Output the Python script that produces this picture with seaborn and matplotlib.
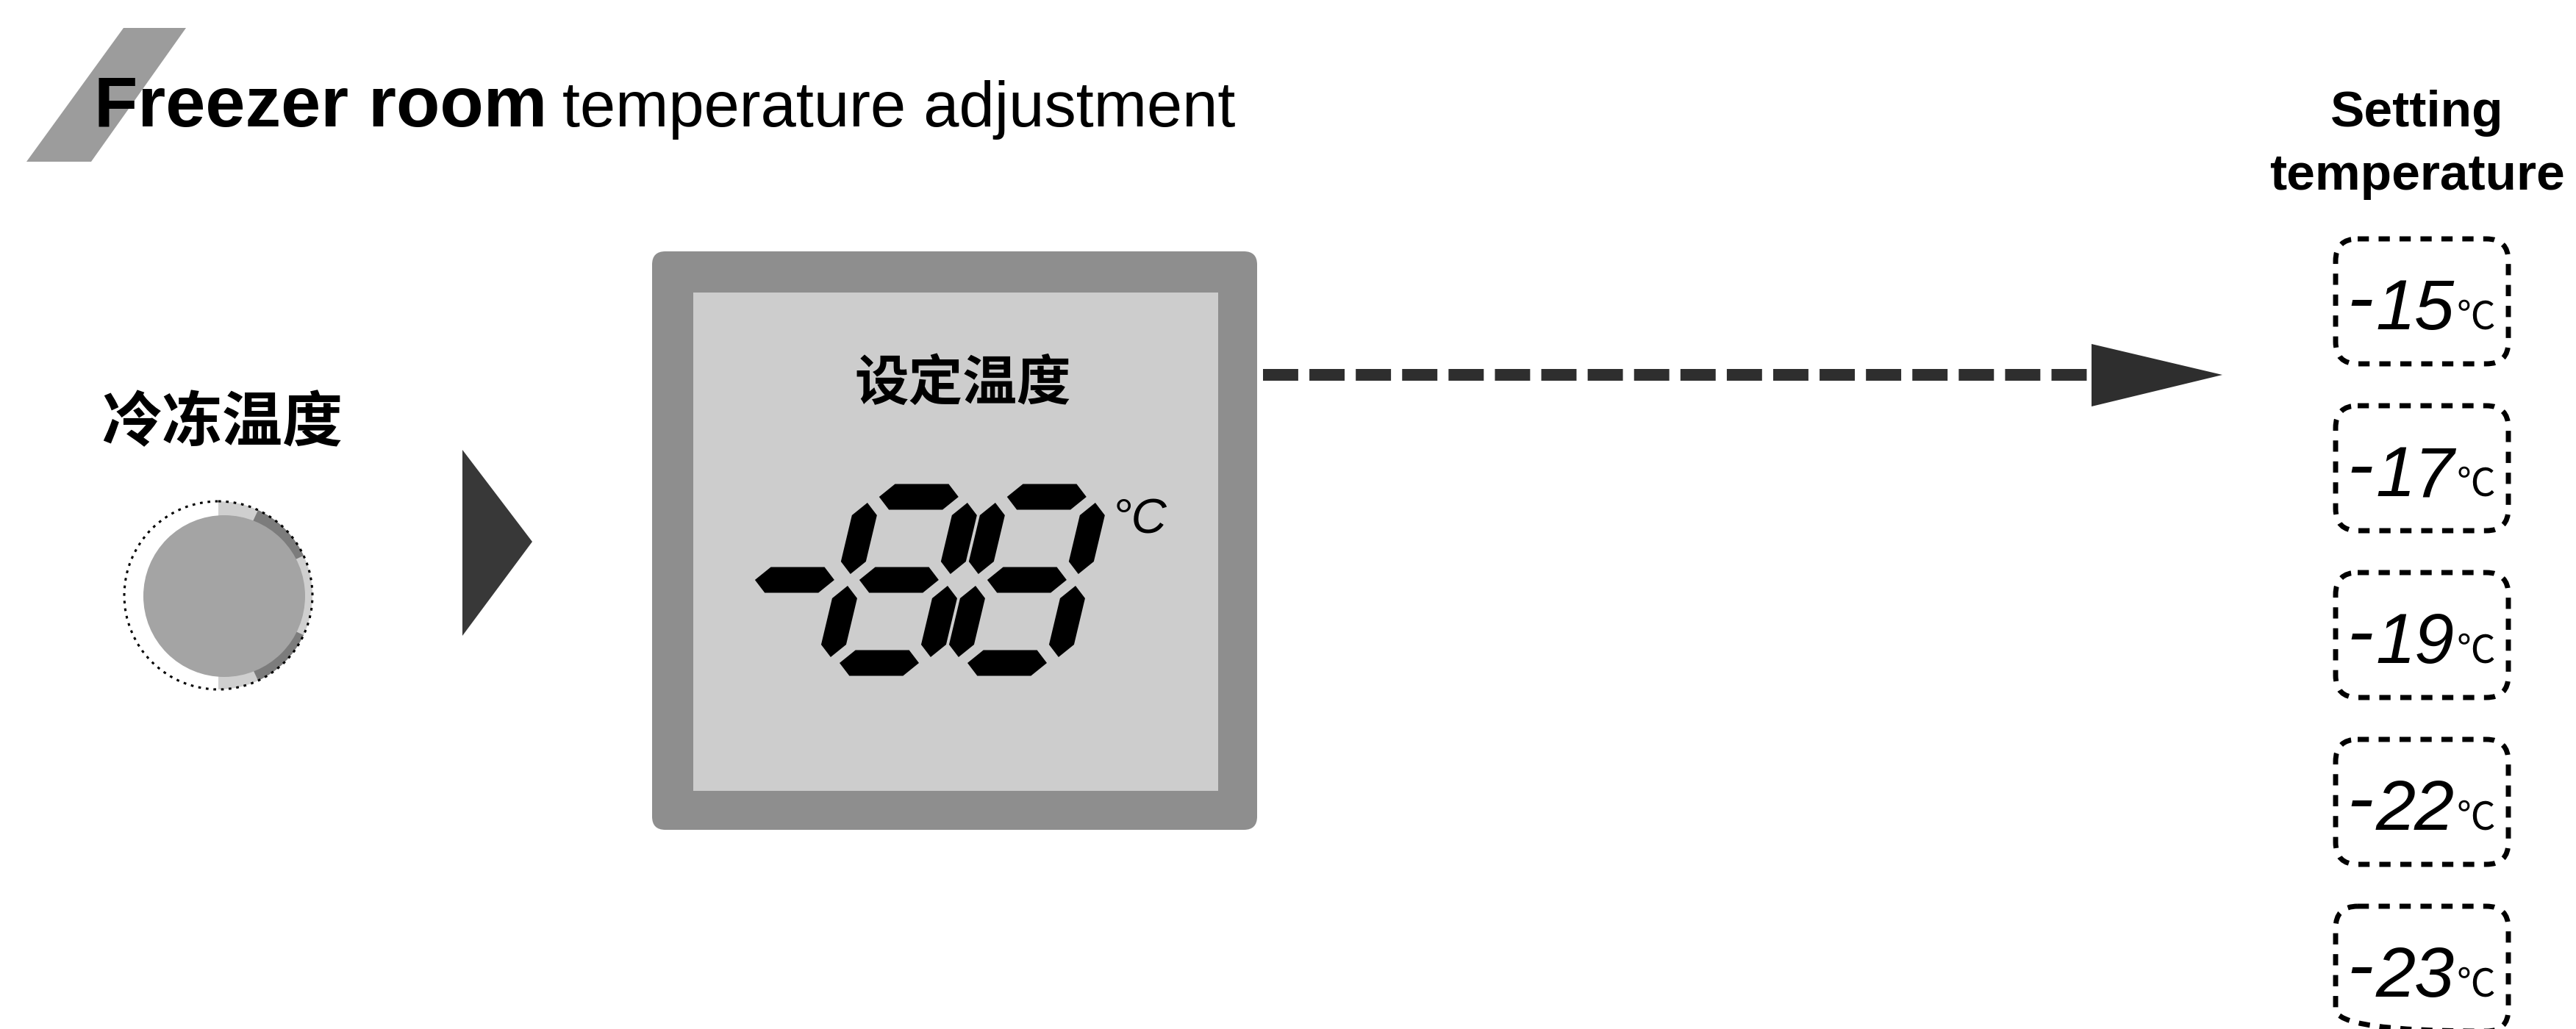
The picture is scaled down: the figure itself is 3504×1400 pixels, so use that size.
import matplotlib
matplotlib.use("agg")
import matplotlib.pyplot as plt
from matplotlib.patches import Polygon, FancyBboxPatch, Circle, Wedge, Rectangle
import seaborn as sns

# texts and values
title_bold = "Freezer room"
title_rest = "temperature adjustment"
knob_label = "冷冻温度"
display_label = "设定温度"
display_digits = "-88"
display_unit = "°C"
column_title = ["Setting", "temperature"]
setting_temps = [-15, -17, -19, -22, -23]
temp_unit = "℃"

sns.set_theme(style="white")
plt.rcParams["font.family"] = ["Liberation Sans", "Noto Sans CJK SC", "DejaVu Sans"]
cjk = ["Noto Sans CJK SC", "DejaVu Sans"]

W, H = 3505, 1400
fig = plt.figure(figsize=(W / 100, H / 100), dpi=100)
ax = fig.add_axes([0, 0, 1, 1])
ax.set_xlim(0, W)
ax.set_ylim(H, 0)
ax.axis("off")

# title with slanted stripe
ax.add_patch(Polygon([(168, 38), (253, 38), (124, 220), (36, 220)],
                     closed=True, fc="#9c9c9c", ec="none", zorder=1))
ax.text(128, 172, title_bold, fontsize=70, weight="bold", ha="left",
        va="baseline", color="black", zorder=3)
ax.text(765, 172, title_rest, fontsize=62.5, ha="left", va="baseline",
        color="black", zorder=3)

# knob
ax.text(302, 576, knob_label, family=cjk, fontsize=59, weight="bold",
        ha="center", va="center", color="black")
kc, kr = (297, 810), 128
ax.add_patch(Wedge(kc, kr, -90, 90, fc="#cfcfcf", ec="none"))
ax.add_patch(Wedge(kc, kr, 25, 65, width=30, fc="#7c7c7c", ec="none"))
ax.add_patch(Wedge(kc, kr, -65, -25, width=30, fc="#7c7c7c", ec="none"))
ax.add_patch(Circle((305, 811), 110, fc="#a4a4a4", ec="none"))
ax.add_patch(Circle(kc, kr, fill=False, ec="black", lw=2.2,
                    ls=(0, (1.2, 2.2))))

# small pointer triangle
ax.add_patch(Polygon([(629, 612), (724, 737), (629, 865)], closed=True,
                     fc="#383838", ec="none"))

# LCD display
ax.add_patch(FancyBboxPatch((887, 342), 823, 787,
                            boxstyle="round,pad=0,rounding_size=18",
                            fc="#8e8e8e", ec="none"))
ax.add_patch(Rectangle((943, 398), 714, 678, fc="#cdcdcd", ec="none"))
ax.text(1310, 523, display_label, family=cjk, fontsize=53, weight="bold",
        ha="center", va="center", color="black")

SEGS = {"-": "g", "0": "abcdef", "1": "bc", "2": "abged", "3": "abgcd",
        "4": "fgbc", "5": "afgcd", "6": "afgedc", "7": "abc",
        "8": "abcdefg", "9": "abcdfg"}
ytop, ymid, ybot = 676, 789, 902
slant = 0.238
th, tv, gh, gv = 35, 34, 14, 8


def sk(pts):
    return [(x + slant * (ybot - y), y) for x, y in pts]


def hseg(x0, x1, yc):
    h = th / 2
    return sk([(x0, yc), (x0 + h, yc - h), (x1 - h, yc - h), (x1, yc),
               (x1 - h, yc + h), (x0 + h, yc + h)])


def vseg(xc, y0, y1):
    h = tv / 2
    return sk([(xc, y0), (xc + h, y0 + h), (xc + h, y1 - h), (xc, y1),
               (xc - h, y1 - h), (xc - h, y0 + h)])


cells = [986, 1128, 1302]
cw = 136
for ch, xl in zip(display_digits, cells):
    xr = xl + cw
    shapes = {
        "a": hseg(xl + gh, xr - gh, ytop),
        "g": hseg(xl + gh, xr - gh, ymid),
        "d": hseg(xl + gh, xr - gh, ybot),
        "f": vseg(xl, ytop + gv, ymid - gv),
        "e": vseg(xl, ymid + gv, ybot - gv),
        "b": vseg(xr, ytop + gv, ymid - gv),
        "c": vseg(xr, ymid + gv, ybot - gv),
    }
    for s in SEGS[ch]:
        ax.add_patch(Polygon(shapes[s], closed=True, fc="black", ec="none"))
ax.text(1513, 725, display_unit, fontsize=48, style="italic", ha="left",
        va="baseline", color="black")

# dashed arrow to the list
ax.plot([1718, 2846], [510, 510], color="#2e2e2e", lw=11.5,
        dashes=(3.0, 0.95), dash_capstyle="butt", solid_capstyle="butt")
ax.add_patch(Polygon([(2845, 468), (3023, 510), (2845, 553)], closed=True,
                     fc="#2e2e2e", ec="none"))

# setting temperature column
ax.text(3288, 172, column_title[0], fontsize=50, weight="bold", ha="center",
        va="baseline", color="black")
ax.text(3288, 258, column_title[1], fontsize=50, weight="bold", ha="center",
        va="baseline", color="black")

bx, bw, bh, by0, pitch = 3177, 235, 170, 325, 227
digit_right = [3286, 3338]
for i, t in enumerate(setting_temps):
    top = by0 + i * pitch
    ax.add_patch(FancyBboxPatch((bx, top), bw, bh,
                                boxstyle="round,pad=0,rounding_size=30",
                                fill=False, ec="black", lw=5,
                                ls=(0, (2.2, 1.9))))
    base = top + 123
    ax.text(3211, base - 8, "-", fontsize=78, style="italic", ha="center",
            va="baseline", color="black")
    for d, xr in zip(str(abs(t)), digit_right):
        ax.text(xr, base, d, fontsize=70, style="italic", ha="right",
                va="baseline", color="black")
    ax.text(3342, base, temp_unit, family=cjk, fontsize=38, ha="left",
            va="baseline", color="black")

fig.savefig("out.png", dpi=100, facecolor="white")
